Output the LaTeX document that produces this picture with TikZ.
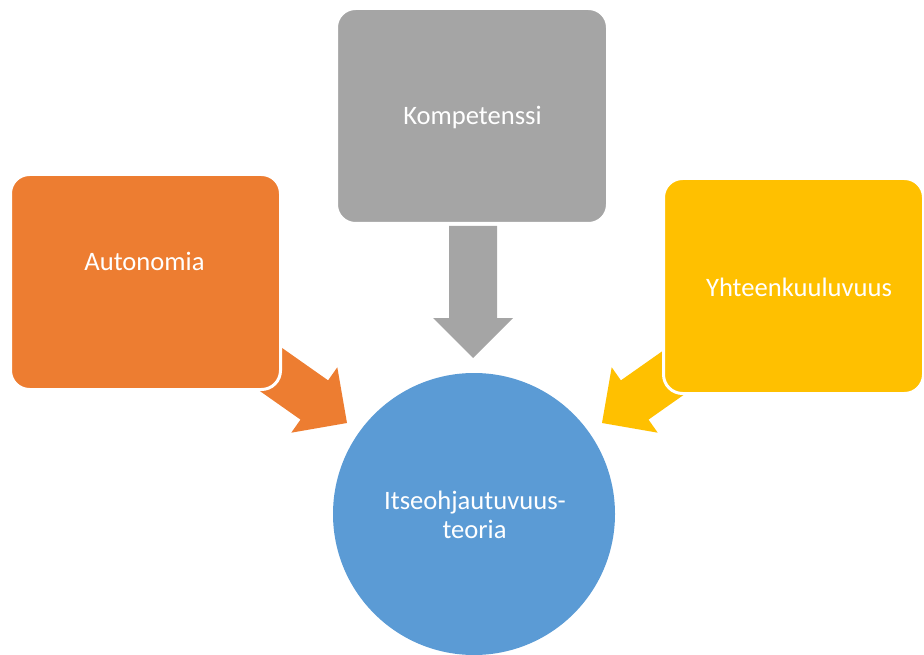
\documentclass[tikz,border=0pt]{standalone}
\usepackage{fontspec}
\setmainfont{Carlito}
\usetikzlibrary{calc}
\definecolor{sdtorange}{HTML}{ED7D31}
\definecolor{sdtgray}{HTML}{A5A5A5}
\definecolor{sdtyellow}{HTML}{FFC000}
\definecolor{sdtblue}{HTML}{5B9BD5}
\tikzset{
  boxshape/.style={rectangle, rounded corners=19pt, draw=white, line width=3pt, minimum height=215pt, inner sep=0pt},
  lbl/.style={text=white, font=\fontsize{26.6}{29}\selectfont, inner sep=0pt, anchor=base},
}
\newcommand\blockarrow[4]{%
  \coordinate (#1-h) at ($(#3)!40pt!(#2)$);
  \fill[#4] ($(#2)!24pt!90:(#3)$) -- ($(#1-h)!24pt!90:(#3)$) -- ($(#1-h)!40pt!90:(#3)$) -- (#3)
    -- ($(#1-h)!40pt!-90:(#3)$) -- ($(#1-h)!24pt!-90:(#3)$) -- ($(#2)!24pt!-90:(#3)$) -- cycle;
}
\begin{document}
\begin{tikzpicture}[x=1pt,y=-1pt]
\useasboundingbox (0,0) rectangle (924,655);
% arrow ends
\coordinate (gtail) at (473,226);
\coordinate (gtip) at (473,358);
\coordinate (otail) at (239,347);
\coordinate (otip) at (347,423);
\coordinate (ytail) at (710,347);
\coordinate (ytip) at (602,423);
\blockarrow{ga}{gtail}{gtip}{sdtgray}
\blockarrow{oa}{otail}{otip}{sdtorange}
\blockarrow{ya}{ytail}{ytip}{sdtyellow}
% boxes
\node[boxshape, fill=sdtgray, minimum width=271pt] (komp) at (472,116) {};
\node[boxshape, fill=sdtorange, minimum width=270pt] (auto) at (145.5,282) {};
\node[boxshape, fill=sdtyellow, minimum width=260pt] (yhte) at (793.5,286) {};
\node[circle, fill=sdtblue, minimum size=282pt, inner sep=0pt] (teoria) at (474,514) {};
% labels
\node[lbl] (kompt) at (472.5,125) {Kompetenssi};
\node[lbl] (autot) at (144.5,270) {Autonomia};
\node[lbl] (yhtet) at (799,296) {Yhteenkuuluvuus};
\node[lbl] (teor1) at (475,509) {Itseohjautuvuus-};
\node[lbl] (teor2) at (474.5,538) {teoria};
\end{tikzpicture}
\end{document}
